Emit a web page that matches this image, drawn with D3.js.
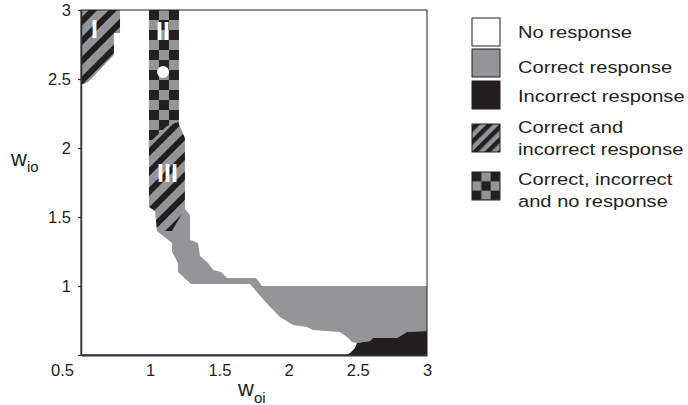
<!DOCTYPE html>
<html>
<head>
<meta charset="utf-8">
<script src="https://cdn.jsdelivr.net/npm/d3@7"></script>
<style>
  body { margin: 0; background: #fff; }
  svg text { font-family: "Liberation Sans", Arial, sans-serif; fill: #231f20; }
</style>
</head>
<body>
<div class="map"></div>
<script>
// axis ticks (w_oi on x, w_io on y)
const xTicks = [0.5, 1, 1.5, 2, 2.5, 3];
const yTicks = [0.5, 1, 1.5, 2, 2.5, 3];

// region outlines in (w_oi, w_io) units
const regionOne = [[0.5, 3.0], [0.782, 3.0], [0.782, 2.833], [0.738, 2.833], [0.738, 2.674],
  [0.551, 2.478], [0.522, 2.464], [0.5, 2.464]];
const regionTwo = [[0.991, 3.0], [1.208, 3.0], [1.208, 2.15], [0.991, 2.01]];
const regionThree = [[0.991, 2.036], [1.121, 2.159], [1.201, 2.188], [1.251, 2.072], [1.251, 1.558],
  [1.158, 1.399], [1.049, 1.399], [1.035, 1.543], [0.991, 1.572]];
const correctRegion = [[1.049, 1.399], [1.158, 1.399], [1.251, 1.558], [1.288, 1.514], [1.288, 1.333],
  [1.345, 1.312], [1.360, 1.217], [1.418, 1.167], [1.454, 1.116], [1.512, 1.101], [1.555, 1.058],
  [1.764, 1.058], [1.808, 1.0], [3.0, 1.0], [3.0, 0.674], [2.855, 0.667], [2.783, 0.623],
  [2.610, 0.623], [2.588, 0.601], [2.494, 0.587], [2.458, 0.594], [2.422, 0.630], [2.371, 0.667],
  [2.176, 0.681], [2.133, 0.703], [2.032, 0.717], [1.938, 0.775], [1.866, 0.848], [1.808, 0.913],
  [1.721, 1.014], [1.295, 1.014], [1.201, 1.101], [1.201, 1.167], [1.158, 1.246], [1.158, 1.312]];
const incorrectRegion = [[2.420, 0.5], [2.444, 0.514], [2.480, 0.551], [2.494, 0.587], [2.588, 0.601],
  [2.610, 0.623], [2.783, 0.623], [2.855, 0.667], [3.0, 0.674], [3.0, 0.5]];
const dotPoint = [1.093, 2.55];
const regionLabels = ["I", "II", "III"];
const regionLabelPoints = [[0.598, 2.797], [1.092, 2.783], [1.125, 1.754]];

const legendLabels = [
  ["No response"],
  ["Correct response"],
  ["Incorrect response"],
  ["Correct and", "incorrect response"],
  ["Correct, incorrect", "and no response"]
];

const grey = "#939598";
const black = "#231f20";

let svg, defs, x, y, line;

const createChart = () => {
  svg = d3.select(".map")
    .append("svg")
    .attr("width", 688)
    .attr("height", 405);
  defs = svg.append("defs");

  x = d3.scaleLinear().domain([0.5, 3]).range([81, 427]);
  y = d3.scaleLinear().domain([0.5, 3]).range([355, 10]);
  line = d3.line().x(d => x(d[0])).y(d => y(d[1])).curve(d3.curveLinearClosed);
};

const createPatterns = () => {
  // diagonal stripes for "correct and incorrect"
  const stripes = (id, size, band) => {
    const p = defs.append("pattern")
      .attr("id", id)
      .attr("patternUnits", "userSpaceOnUse")
      .attr("width", size)
      .attr("height", size)
      .attr("patternTransform", "rotate(45)");
    p.append("rect").attr("width", size).attr("height", size).attr("fill", grey);
    p.append("rect").attr("width", band).attr("height", size).attr("fill", black);
  };
  stripes("stripes", 14, 6);
  stripes("stripesSmall", 9, 4.5);

  // checkerboard for "correct, incorrect and no response"
  const checker = (id, cell, ox, oy) => {
    const p = defs.append("pattern")
      .attr("id", id)
      .attr("patternUnits", "userSpaceOnUse")
      .attr("x", ox)
      .attr("y", oy)
      .attr("width", cell * 2)
      .attr("height", cell * 2);
    p.append("rect").attr("width", cell * 2).attr("height", cell * 2).attr("fill", grey);
    p.append("rect").attr("width", cell).attr("height", cell).attr("fill", black);
    p.append("rect").attr("x", cell).attr("y", cell).attr("width", cell).attr("height", cell).attr("fill", black);
  };
  checker("checker", 10, x(regionTwo[0][0]), y(regionTwo[0][1]));
  checker("checkerSmall", 28 / 3, 472, 172);

  defs.append("clipPath").attr("id", "plotClip")
    .append("rect")
    .attr("x", x(0.5)).attr("y", y(3))
    .attr("width", x(3) - x(0.5)).attr("height", y(0.5) - y(3));
};

const createMap = () => {
  const g = svg.append("g").attr("clip-path", "url(#plotClip)");

  g.append("path").attr("d", line(correctRegion)).attr("fill", grey);
  g.append("path").attr("d", line(incorrectRegion)).attr("fill", black);
  g.append("path").attr("d", line(regionOne)).attr("fill", "url(#stripes)");
  g.append("path").attr("d", line(regionTwo)).attr("fill", "url(#checker)");
  g.append("path").attr("d", line(regionThree)).attr("fill", "url(#stripes)");

  g.append("circle")
    .attr("cx", x(dotPoint[0]))
    .attr("cy", y(dotPoint[1]))
    .attr("r", 6)
    .attr("fill", "#fff");

  g.selectAll(".region-label")
    .data(regionLabels)
    .enter()
    .append("text")
    .attr("class", "region-label")
    .attr("x", (d, i) => x(regionLabelPoints[i][0]))
    .attr("y", (d, i) => y(regionLabelPoints[i][1]))
    .attr("text-anchor", "middle")
    .style("font-size", "25px")
    .style("font-weight", "bold")
    .style("fill", "#fff")
    .text(d => d);
};

const createAxes = () => {
  // frame
  svg.append("rect")
    .attr("x", x(0.5)).attr("y", y(3))
    .attr("width", x(3) - x(0.5)).attr("height", y(0.5) - y(3))
    .attr("fill", "none")
    .attr("stroke", black)
    .attr("stroke-width", 1);

  const xAxis = d3.axisBottom(x)
    .tickValues(xTicks)
    .tickSize(0)
    .tickPadding(9)
    .tickFormat(d3.format(""));

  const gx = svg.append("g")
    .attr("transform", `translate(0, ${y(0.5)})`)
    .call(xAxis);
  gx.select(".domain").attr("stroke", "#333").attr("stroke-width", 2);
  gx.selectAll("text").style("font-size", "16.5px").style("font-family", null);
  // the shared corner label sits left of the origin
  gx.selectAll(".tick text").filter(d => d === 0.5).attr("x", -19);

  const yAxis = d3.axisLeft(y)
    .tickValues(yTicks)
    .tickSizeInner(3)
    .tickSizeOuter(0)
    .tickPadding(7)
    .tickFormat(d => d === 0.5 ? "" : d3.format("")(d));

  const gy = svg.append("g")
    .attr("transform", `translate(${x(0.5)}, 0)`)
    .call(yAxis);
  gy.select(".domain").attr("stroke", "#333").attr("stroke-width", 1.5);
  gy.selectAll(".tick line").attr("stroke", "#333").attr("stroke-width", 1.2);
  gy.selectAll("text").style("font-size", "16.5px").style("font-family", null);

  // axis titles
  const xt = svg.append("text").attr("x", 238).attr("y", 396).style("font-size", "22px");
  xt.append("tspan").text("w");
  xt.append("tspan").attr("dy", 7).style("font-size", "15px").text("oi");

  const yt = svg.append("text").attr("x", 11).attr("y", 166).style("font-size", "22px");
  yt.append("tspan").text("w");
  yt.append("tspan").attr("dy", 6).style("font-size", "15px").text("io");
};

const createLegend = () => {
  const fills = ["#fff", grey, black, "url(#stripesSmall)", "url(#checkerSmall)"];
  const boxY = [18, 49, 81, 124, 172];
  const baseY = [38, 73, 102, 133, 185];
  const box = 28;

  const legend = svg.append("g").attr("id", "legend");

  legend.selectAll("rect")
    .data(fills)
    .enter()
    .append("rect")
    .attr("x", 472)
    .attr("y", (d, i) => boxY[i])
    .attr("width", box)
    .attr("height", box)
    .attr("fill", d => d)
    .attr("stroke", black)
    .attr("stroke-width", 1);

  legendLabels.forEach((lines, i) => {
    lines.forEach((t, j) => {
      legend.append("text")
        .attr("transform", `translate(518, ${baseY[i] + j * 21.5}) scale(1.22, 1)`)
        .style("font-size", "16.5px")
        .text(t);
    });
  });
};

createChart();
createPatterns();
createMap();
createAxes();
createLegend();
</script>
</body>
</html>
